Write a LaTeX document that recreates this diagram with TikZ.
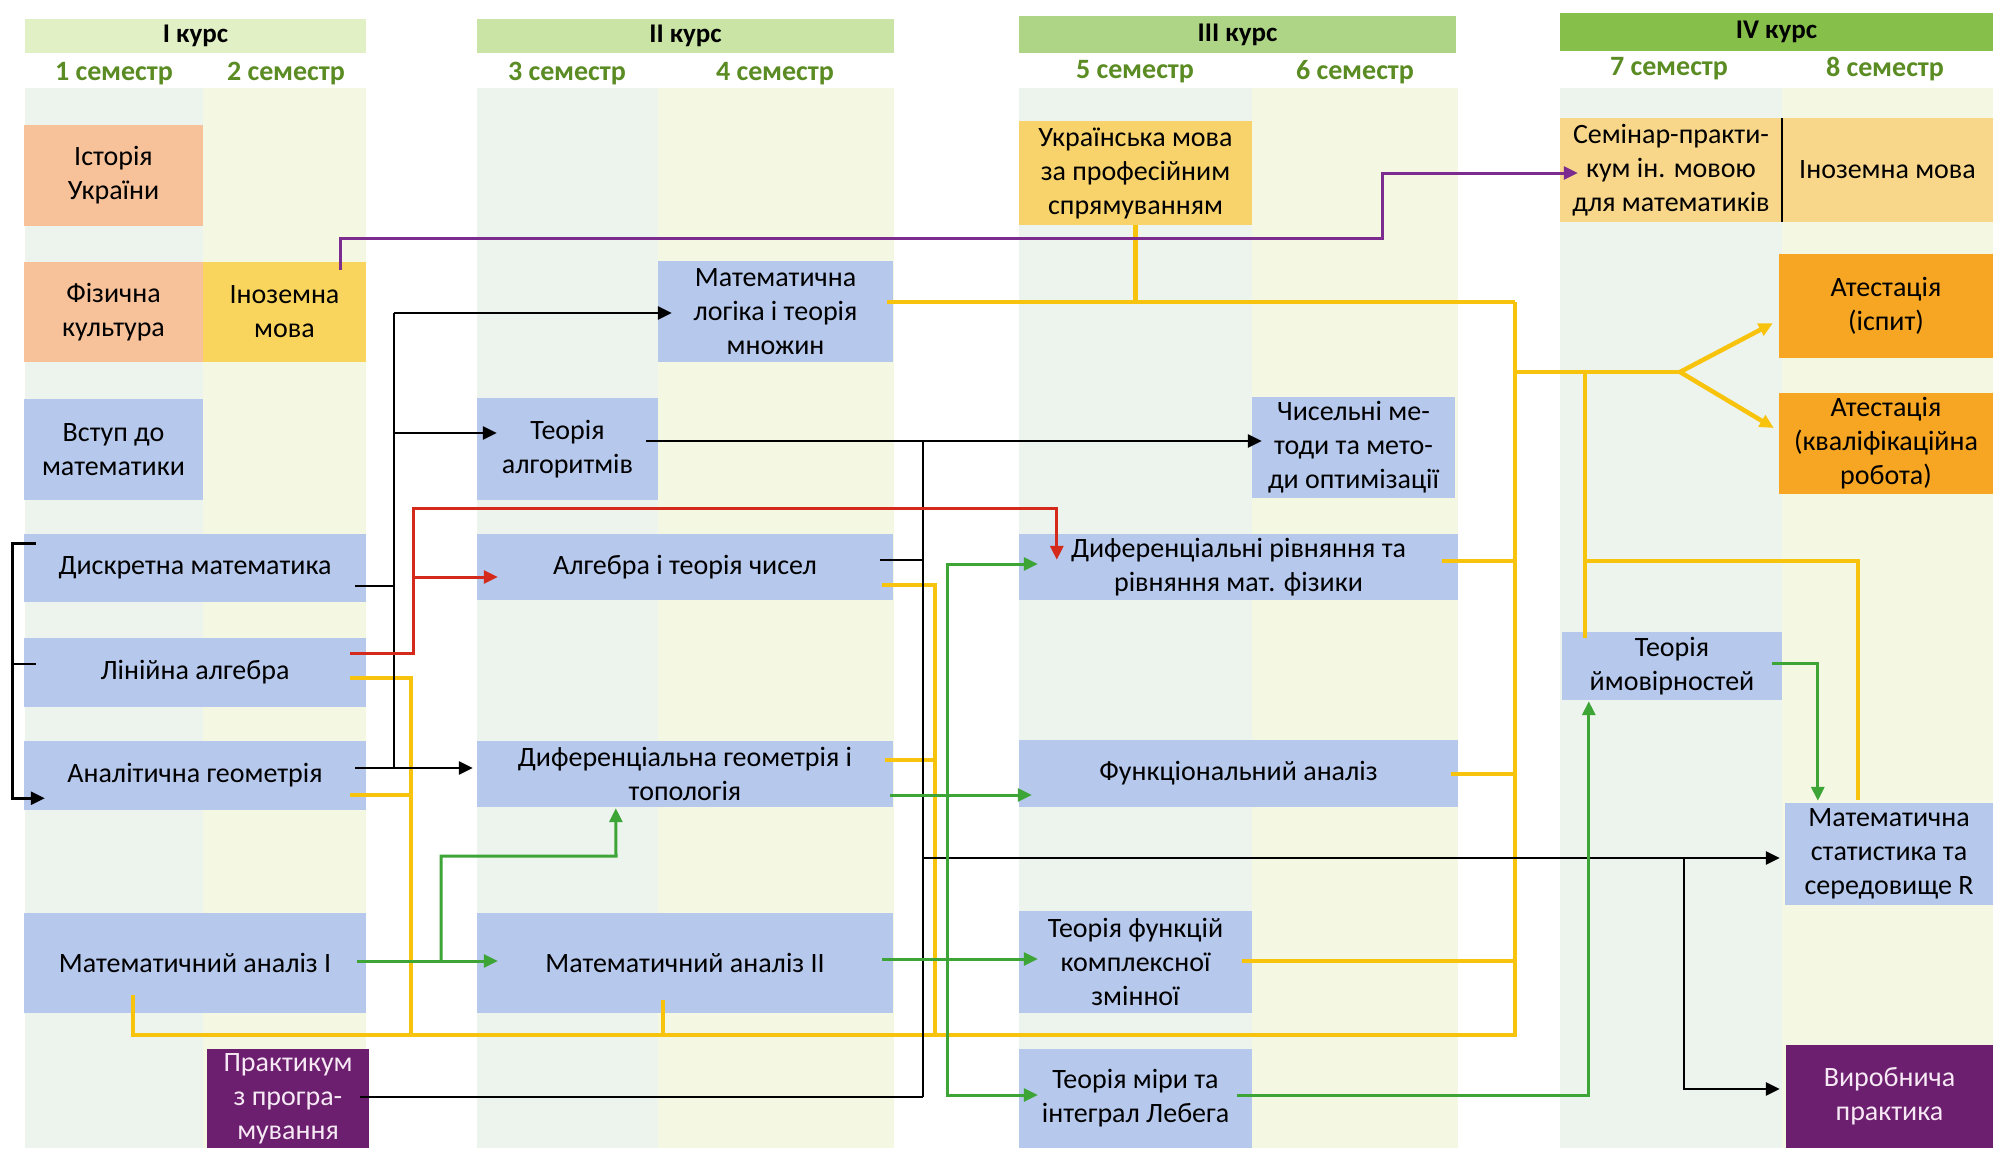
\documentclass[tikz,border=0pt]{standalone}
\usepackage{fontspec}
\setmainfont{Carlito}
\usetikzlibrary{arrows.meta,calc}
\definecolor{cblue}{HTML}{B6C8EC}
\definecolor{csalmon}{HTML}{F7C29A}
\definecolor{cyel}{HTML}{F9D55E}
\definecolor{cyelb}{HTML}{F8D36C}
\definecolor{cyelc}{HTML}{F9D78A}
\definecolor{corange}{HTML}{F6A623}
\definecolor{cpurple}{HTML}{6C1F6E}
\definecolor{hI}{HTML}{E2F0C6}
\definecolor{hII}{HTML}{C9E4A4}
\definecolor{hIII}{HTML}{ADD585}
\definecolor{hIV}{HTML}{86C04B}
\definecolor{semg}{HTML}{5A8C23}
\definecolor{bgA}{HTML}{EDF4EE}
\definecolor{bgB}{HTML}{F4F8E3}
\definecolor{lred}{HTML}{D42A1C}
\definecolor{lgreen}{HTML}{3DA436}
\definecolor{lyel}{HTML}{F8C30C}
\definecolor{lpur}{HTML}{7B2C8E}
\definecolor{ptext}{HTML}{F6E8F4}
\newcommand\crsbox[7]{\node[cbx,fill=#2,minimum width={(#5-#3)*1pt},minimum height={(#6-#4)*1pt}] (#1) at ({(#3+#5)/2},{(#4+#6)/2}) {#7};}
\begin{document}
\begin{tikzpicture}[x=1pt,y=-1pt,
  cbx/.style={rectangle,inner sep=0pt,align=center,font=\fontsize{28}{34}\selectfont},
  hdr/.style={rectangle,inner sep=0pt,font=\bfseries\fontsize{27}{30}\selectfont},
  semlbl/.style={inner sep=0pt,font=\bfseries\fontsize{28}{30}\selectfont,text=semg},
  witharrow/.style={-{Triangle[length=14pt,width=13pt]}},
  blk/.style={line width=2.8pt,black},
  redl/.style={line width=3pt,lred},
  grn/.style={line width=3pt,lgreen},
  ylw/.style={line width=4.5pt,lyel},
  prp/.style={line width=3pt,lpur}]
\useasboundingbox (0,0) rectangle (1993,1148);
\fill[white] (0,0) rectangle (1993,1148);
% column backgrounds
\fill[bgA] (25,88) rectangle (203,1148);
\fill[bgB] (203,88) rectangle (366,1148);
\fill[bgA] (477,88) rectangle (658,1148);
\fill[bgB] (658,88) rectangle (894,1148);
\fill[bgA] (1019,88) rectangle (1252,1148);
\fill[bgB] (1252,88) rectangle (1458,1148);
\fill[bgA] (1560,88) rectangle (1782,1148);
\fill[bgB] (1782,88) rectangle (1993,1148);
% headers
\node[hdr,fill=hI,minimum width=341pt,minimum height=34pt] (k1) at (195.5,36) {I курс};
\node[hdr,fill=hII,minimum width=417pt,minimum height=34pt] (k2) at (685.5,36) {II курс};
\node[hdr,fill=hIII,minimum width=437pt,minimum height=37pt] (k3) at (1237.5,34.5) {III курс};
\node[hdr,fill=hIV,minimum width=433pt,minimum height=38pt] (k4) at (1776.5,32) {IV курс};
\node[semlbl] (s1) at (114,74) {1 семестр};
\node[semlbl] (s2) at (286,74) {2 семестр};
\node[semlbl] (s3) at (567,74) {3 семестр};
\node[semlbl] (s4) at (775,74) {4 семестр};
\node[semlbl] (s5) at (1135,72) {5 семестр};
\node[semlbl] (s6) at (1355,72) {6 семестр};
\node[semlbl] (s7) at (1669,69) {7 семестр};
\node[semlbl] (s8) at (1885,69) {8 семестр};
% boxes
\crsbox{ist}{csalmon}{24}{125}{203}{226}{Історія\\України}
\crsbox{fiz}{csalmon}{24}{262}{203}{362}{Фізична\\культура}
\crsbox{inoa}{cyel}{203}{262}{366}{362}{Іноземна\\мова}
\crsbox{vst}{cblue}{24}{399}{203}{500}{Вступ до\\математики}
\crsbox{dm}{cblue}{24}{534}{366}{602}{Дискретна математика}
\crsbox{la}{cblue}{24}{638}{366}{707}{Лінійна алгебра}
\crsbox{ag}{cblue}{24}{741}{366}{810}{Аналітична геометрія}
\crsbox{maa}{cblue}{24}{913}{366}{1013}{Математичний аналіз І}
\crsbox{prak}{cpurple}{207}{1049}{369}{1148}{\color{ptext}Практикум\\\color{ptext}з програ-\\\color{ptext}мування}
\crsbox{ta}{cblue}{477}{398}{658}{500}{Теорія\\алгоритмів}
\crsbox{ml}{cblue}{658}{261}{893}{362}{Математична\\логіка і теорія\\множин}
\crsbox{atc}{cblue}{477}{534}{893}{600}{Алгебра і теорія чисел}
\crsbox{dg}{cblue}{477}{741}{893}{807}{Диференціальна геометрія і\\топологія}
\crsbox{mab}{cblue}{477}{913}{893}{1013}{Математичний аналіз ІІ}
\crsbox{ukr}{cyelb}{1019}{121}{1252}{225}{Українська мова\\за професійним\\спрямуванням}
\crsbox{chm}{cblue}{1252}{397}{1455}{498}{Чисельні ме-\\тоди та мето-\\ди оптимізації}
\crsbox{dr}{cblue}{1019}{534}{1458}{600}{Диференціальні рівняння та\\рівняння мат. фізики}
\crsbox{fa}{cblue}{1019}{740}{1458}{807}{Функціональний аналіз}
\crsbox{tfk}{cblue}{1019}{911}{1252}{1013}{Теорія функцій\\комплексної\\змінної}
\crsbox{tm}{cblue}{1019}{1049}{1252}{1148}{Теорія міри та\\інтеграл Лебега}
\crsbox{sem}{cyelc}{1560}{118}{1782}{222}{Семінар-практи-\\кум ін. мовою\\для математиків}
\crsbox{inob}{cyelc}{1782}{118}{1993}{222}{Іноземна мова}
\crsbox{ata}{corange}{1779}{254}{1993}{358}{Атестація\\(іспит)}
\crsbox{atb}{corange}{1779}{393}{1993}{494}{Атестація\\(кваліфікаційна\\робота)}
\crsbox{tv}{cblue}{1562}{632}{1782}{700}{Теорія\\ймовірностей}
\crsbox{ms}{cblue}{1785}{803}{1993}{905}{Математична\\статистика та\\середовище R}
\crsbox{vp}{cpurple}{1786}{1045}{1993}{1148}{\color{ptext}Виробнича\\\color{ptext}практика}
\draw[line width=2.5pt] (sem.north east) -- (sem.south east);
% junction coordinates
\coordinate (t1) at (394,313);
\coordinate (t2) at (394,768);
\coordinate (v2) at (923,1097);
\coordinate (vb) at (1684,858);
\coordinate (yc) at (1515,1035);
\coordinate (yt) at (1515,302);
\coordinate (fk) at (1680,372);
\coordinate (ry) at (413,508);
\coordinate (rb) at (413,577);
\coordinate (ga) at (441,961);
\coordinate (gb) at (616,856);
\coordinate (gc) at (947,959);
\coordinate (pa) at (1382,173);
% yellow
\draw[ylw] ($(la.east)+(-16,5.5)$) -| (yc -| 411,0);
\draw[ylw] ($(ag.east)+(-16,19.5)$) -- ++(61,0);
\draw[ylw] ($(maa.south west)+(109,-18)$) |- (yc) -- (yt);
\draw[ylw] ($(mab.south west)+(186,-13)$) -- ++(0,35);
\draw[ylw] ($(atc.east)+(-11,18)$) -| (yc -| 935,0);
\draw[ylw] ($(dg.east)+(-8,-14)$) -- ++(50,0);
\draw[ylw] ($(ml.east)+(-6,-9.5)$) -- (yt);
\draw[ylw] (ukr.south) -- (ukr.south |- yt);
\draw[ylw] ($(dr.east)+(-16,-6)$) coordinate (yd) -- (yt |- yd);
\draw[ylw] ($(fa.east)+(-7,0.5)$) coordinate (ye) -- (yt |- ye);
\draw[ylw] ($(tfk.east)+(-10,-1)$) coordinate (yf) -- (yt |- yf);
\draw[ylw] (yt |- fk) -- (fk);
\draw[ylw,witharrow] (fk) -- ($(ata.south west)+(-6,-35)$);
\draw[ylw,witharrow] (fk) -- ($(atb.west)+(-5,-15.5)$);
\draw[ylw] ($(tv.north west)+(23,6)$) coordinate (yq) -- (yq |- fk);
\draw[ylw] ($(ms.north west)+(73,-3)$) |- (yq |- yd);
% black
\draw[blk,witharrow] ($(dm.north west)+(12,10)$) -- ++(-23,0) |- ($(ag.south west)+(21,-12)$);
\draw[blk] ($(la.west)+(12,-8.5)$) -- ++(-23,0);
\draw[blk] ($(dm.east)+(-11,18)$) -- ++(39,0);
\draw[blk] (t1) -- (t2);
\draw[blk,witharrow] ($(ag.east)+(-11,-7.5)$) -- ($(dg.west)+(-4,-6)$);
\draw[blk,witharrow] (t1) -- ($(ml.west)+(14,1.5)$);
\path ($(ta.west)+(20,-16)$) coordinate (taL);
\draw[blk,witharrow] (t1 |- taL) -- (taL);
\draw[blk,witharrow] ($(ta.east)+(-12,-8)$) coordinate (tb) -- ($(chm.west)+(10,-6.5)$);
\draw[blk] (v2 |- tb) -- (v2);
\draw[blk] ($(atc.east)+(-13,-7)$) coordinate (ab) -- (v2 |- ab);
\draw[blk] ($(prak.east)+(-9,-1.5)$) -- (v2);
\path ($(ms.west)+(-5,4)$) coordinate (msL);
\draw[blk,witharrow] (v2 |- msL) -- (msL);
\draw[blk,witharrow] (vb) |- ($(vp.west)+(-6,-7.5)$);
% red
\draw[redl,witharrow] ($(la.east)+(-16,-19.5)$) -| (ry) -| ($(dr.north west)+(38,26)$);
\draw[redl,witharrow] (rb) -- ($(atc.west)+(21,10)$);
% green
\draw[grn,witharrow] ($(maa.east)+(-9,-2)$) -- ($(mab.west)+(21,-2)$);
\draw[grn,witharrow] (ga) |- (gb) -- ($(dg.south west)+(139,1)$);
\draw[grn,witharrow] ($(mab.east)+(-11,-4)$) -- ($(tfk.west)+(19,-3)$);
\draw[grn,witharrow] (gc) |- ($(dr.west)+(19,-3)$);
\draw[grn,witharrow] (gc) |- ($(tm.west)+(19,-3.5)$);
\draw[grn,witharrow] ($(dg.east)+(-3,21)$) -- ($(fa.west)+(13,21.5)$);
\draw[grn,witharrow] ($(tm.east)+(-15,-3.5)$) -| ($(tv.south west)+(27,1)$);
\draw[grn,witharrow] ($(tv.east)+(-10,-3)$) -| ($(ms.north west)+(33,-2)$);
% purple
\draw[prp,witharrow] ($(inoa.north)+(56,8)$) -- ++(0,-31) -| (pa) -- ($(sem.west)+(18,3)$);
\end{tikzpicture}
\end{document}
